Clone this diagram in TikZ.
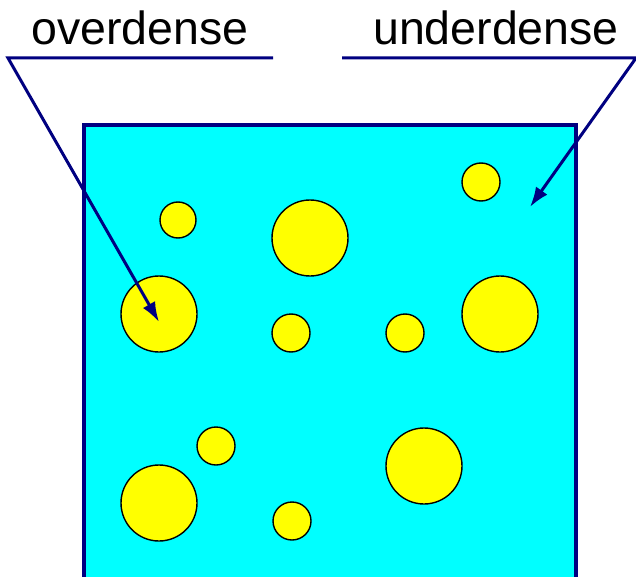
\documentclass[tikz,border=0pt]{standalone}
\usepackage{fontspec}
\setmainfont{Liberation Sans}
\usetikzlibrary{arrows.meta}
\definecolor{navy}{RGB}{0,0,128}
\definecolor{aqua}{RGB}{0,255,255}
\definecolor{lemon}{RGB}{255,255,0}
\tikzset{
	blob/.style={circle, draw=black, fill=lemon, line width=1.4, inner sep=0pt},
	lead/.style={navy, line width=3},
	word/.style={anchor=base, font=\fontsize{46.5}{50}\selectfont}
}
\begin{document}
\begin{tikzpicture}[x=1pt, y=-1pt, >={Latex[length=20pt,width=14pt]}]
			\useasboundingbox (0,0) rectangle (636,577);
			\clip (0,0) rectangle (636,577);
			\fill[aqua] (84,125) rectangle (576,600);
			\draw[lead, line width=3.2] (84,600) -- (84,125) -- (576,125) -- (576,600);
			\foreach \x/\y/\r [count=\i] in {178/220/18, 310/238/38, 481/182/19, 159/314/38,
					291/333/19, 405/333/19, 500/314/38, 216/446/19, 159/503/38, 424/466/38, 292/521/19} {
					\node[blob, minimum size=2*\r] (c\i) at (\x,\y) {};
				}
			\node[word] (over) at (140,45) {overdense};
			\node[word] (under) at (496,45) {underdense};
			\coordinate (overR) at (273,58);
			\coordinate (overL) at (8,58);
			\coordinate (overT) at (159,322);
			\coordinate (underL) at (342,58);
			\coordinate (underR) at (636,58);
			\coordinate (underT) at (530,207);
			\draw[lead, ->] (overR) -- (overL) -- (overT);
			\draw[lead, ->] (underL) -- (underR) -- (underT);
		\end{tikzpicture}
\end{document}
